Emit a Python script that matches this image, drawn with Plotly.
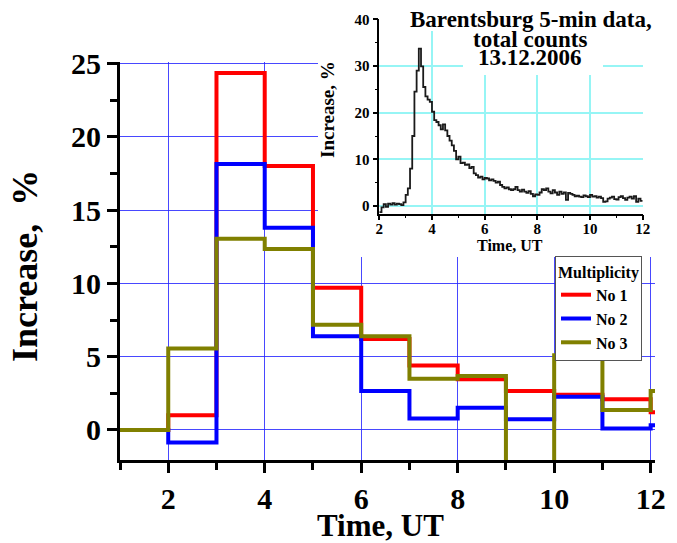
import plotly.graph_objects as go

# ---------------- data ----------------
hour_starts = [1, 2, 3, 4, 5, 6, 7, 8, 9, 10, 11, 12, 13]
no1 = [0, 1.0, 24.35, 18.0, 9.7, 6.2, 4.4, 3.45, 2.65, 2.4, 2.1, 1.2]
no2 = [0, -0.85, 18.15, 13.8, 6.4, 2.65, 0.78, 1.52, 0.73, 2.27, 0.1, 0.32]
no3 = [0, 5.55, 13.05, 12.35, 7.17, 6.4, 3.5, 3.68, -3.0, 5.1, 1.36, 2.65]
series_names = ["No 1", "No 2", "No 3"]
series_colors = ["#ff0000", "#0000ff", "#808000"]

# inset: 5-min total counts, 2 UT .. 12 UT
inset_start_hour = 2
inset_step_min = 5
inset_vals = [
    -1.3, -0.3, 0.4, -0.2, 0.5, 0.3, 0.6, 0.3, 0.5, 0.4, 0.2, 0.8,
    2.4, 3.8, 8.0, 15.0, 24.5, 29.0, 33.7, 29.9, 25.5, 23.5, 22.8, 22.3,
    20.2, 18.4, 18.0, 17.3, 16.4, 17.5, 16.2, 15.0, 14.0, 13.0, 11.8, 10.0,
    10.6, 9.2, 9.3, 8.8, 8.9, 8.1, 8.4, 7.0, 6.6, 6.1, 6.3, 5.7,
    6.0, 5.9, 5.5, 5.7, 5.4, 5.0, 5.2, 4.5, 4.1, 3.8, 4.0, 3.6,
    3.4, 3.6, 4.1, 3.4, 3.1, 3.5, 3.1, 2.8, 3.2, 2.6, 2.1, 2.5,
    2.4, 2.9, 3.6, 3.4, 3.8, 3.1, 2.7, 3.4, 2.9, 2.4, 3.1, 2.6,
    2.9, 1.3, 2.8, 2.6, 2.4, 2.1, 2.2, 2.0, 1.9, 2.3, 2.1, 1.9,
    2.4, 2.0, 2.1, 1.8, 2.0, 1.7, 0.9, 1.0, 1.6, 1.8, 2.0, 1.5,
    1.4, 1.9, 2.1, 1.7, 1.3, 1.8, 2.0, 1.6, 2.1, 0.9, 1.6, 1.1,
]
inset_times = [inset_start_hour + i * inset_step_min / 60 for i in range(len(inset_vals) + 1)]

inset_title_lines = ["Barentsburg 5-min data,", "total counts", "13.12.2006"]

FONT = "Liberation Serif"
W, H = 677, 543

fig = go.Figure()

for name, vals, col in zip(series_names, [no1, no2, no3], series_colors):
    fig.add_trace(go.Scatter(
        x=hour_starts, y=vals + [vals[-1]], mode="lines", name=name,
        line=dict(color=col, width=4, shape="hv"),
        xaxis="x", yaxis="y",
    ))

# empty white cover subplot (hides main grid under the inset)
fig.add_trace(go.Scatter(x=[], y=[], xaxis="x2", yaxis="y2", showlegend=False))

# inset
fig.add_trace(go.Scatter(
    x=inset_times, y=inset_vals + [inset_vals[-1]], mode="lines",
    line=dict(color="#1a1a1a", width=1.8, shape="hv"),
    xaxis="x3", yaxis="y3", showlegend=False,
))

def px_x(p):
    return p / W

def px_y(p):
    return 1 - p / H

tickfont_main = dict(family=FONT, size=30, color="black", weight="bold")
tickfont_inset = dict(family=FONT, size=15, color="black", weight="bold")

fig.update_layout(
    template="none",
    width=W, height=H, autosize=False,
    margin=dict(l=0, r=0, t=0, b=0, pad=0, autoexpand=False),
    paper_bgcolor="white", plot_bgcolor="white",
    showlegend=True,
    xaxis=dict(
        domain=[px_x(120), px_x(655)], range=[1, 12.09], automargin=False,
        showline=True, linewidth=3, linecolor="black",
        ticks="outside", ticklen=10, tickwidth=3, tickcolor="black",
        tick0=2, dtick=2, tickfont=tickfont_main,
        minor=dict(ticks="outside", ticklen=7, tickwidth=3, tickcolor="black", dtick=1, tick0=1, showgrid=False),
        showgrid=True, gridcolor="rgba(40,40,255,0.85)", gridwidth=1, zeroline=False,
        anchor="y",
    ),
    yaxis=dict(
        domain=[px_y(460), px_y(62)], range=[-2.05, 25.1], automargin=False,
        showline=True, linewidth=3, linecolor="black",
        ticks="outside", ticklen=10, tickwidth=3, tickcolor="black",
        tick0=0, dtick=5, tickfont=tickfont_main,
        minor=dict(ticks="outside", ticklen=7, tickwidth=3, tickcolor="black", dtick=2.5, tick0=0, showgrid=False),
        showgrid=True, gridcolor="rgba(40,40,255,0.85)", gridwidth=1, zeroline=False,
        anchor="x",
    ),
    xaxis2=dict(domain=[px_x(318), 1.0], visible=False, anchor="y2", automargin=False),
    yaxis2=dict(domain=[px_y(257), 1.0], visible=False, anchor="x2", automargin=False),
    xaxis3=dict(
        domain=[px_x(379.3), px_x(642.7)], range=[2, 12], automargin=False,
        showline=True, linewidth=1.5, linecolor="black",
        ticks="outside", ticklen=5, tickwidth=1.5, tickcolor="black",
        tick0=2, dtick=2, tickfont=tickfont_inset, ticklabelstandoff=-4,
        minor=dict(ticks="outside", ticklen=3, tickwidth=1.2, tickcolor="black", dtick=1, showgrid=False),
        showgrid=True, gridcolor="rgb(150,245,245)", gridwidth=1.5, zeroline=False,
        anchor="y3",
    ),
    yaxis3=dict(
        domain=[px_y(213.5), px_y(19.3)], range=[-1.6, 40], automargin=False,
        showline=True, linewidth=1.5, linecolor="black",
        ticks="outside", ticklen=5, tickwidth=1.5, tickcolor="black",
        tick0=0, dtick=10, tickfont=tickfont_inset,
        minor=dict(ticks="outside", ticklen=3, tickwidth=1.2, tickcolor="black", dtick=5, showgrid=False),
        showgrid=True, gridcolor="rgb(150,245,245)", gridwidth=1.5, zeroline=False,
        anchor="x3",
    ),
    legend=dict(
        x=px_x(555), y=px_y(256), xanchor="left", yanchor="top",
        bgcolor="white", bordercolor="#555555", borderwidth=1,
        font=dict(family=FONT, size=16, color="black", weight="bold"),
        title=dict(text="Multiplicity", font=dict(family=FONT, size=16, color="black", weight="bold")),
        tracegroupgap=0, itemwidth=30,
    ),
)

# white backing behind the inset title (hides inset grid there)
for (x0, x1, y0, y1) in [(381, 662, 5, 31), (463, 603, 31, 75)]:
    fig.add_shape(type="rect", xref="paper", yref="paper", layer="above",
                  x0=px_x(x0), x1=px_x(x1), y0=px_y(y1), y1=px_y(y0),
                  fillcolor="white", line=dict(width=0))

annots = [
    dict(text="Increase,  %", x=px_x(25), y=px_y(266), textangle=-90,
         font=dict(family=FONT, size=36, color="black", weight="bold")),
    dict(text="Time, UT", x=px_x(381), y=px_y(525),
         font=dict(family=FONT, size=31, color="black", weight="bold")),
    dict(text="Increase, %", x=px_x(327), y=px_y(110), textangle=-90,
         font=dict(family=FONT, size=19, color="black", weight="bold")),
    dict(text="Time, UT", x=px_x(510), y=px_y(246),
         font=dict(family=FONT, size=16, color="black", weight="bold")),
]
for txt, cx, cy in zip(inset_title_lines, [531, 530, 530], [19, 39, 58]):
    annots.append(dict(text=txt, x=px_x(cx), y=px_y(cy),
                       font=dict(family=FONT, size=23, color="black", weight="bold")))
for a in annots:
    fig.add_annotation(xref="paper", yref="paper", showarrow=False,
                       xanchor="center", yanchor="middle", **a)

fig.write_html(
    "out.html",
    config=dict(displayModeBar=False),
    post_script="document.body.style.margin='0';document.body.style.overflow='hidden';",
)
